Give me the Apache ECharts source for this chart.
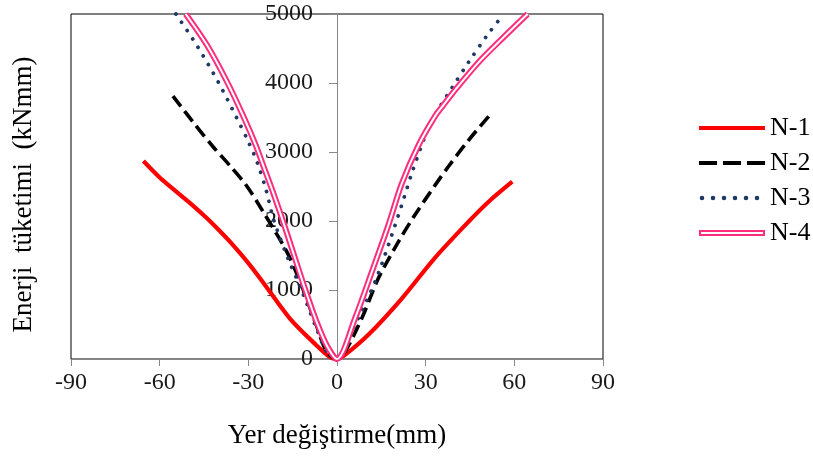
<!DOCTYPE html>
<html>
<head>
<meta charset="utf-8">
<script src="https://cdn.jsdelivr.net/npm/echarts@6/dist/echarts.min.js"></script>
<style>html,body{margin:0;padding:0;background:#fff}#c{width:813px;height:457px}</style>
</head>
<body>
<div id="c"></div>
<script>
// ---- data ----
var seriesNames = ['N-1', 'N-2', 'N-3', 'N-4'];
var xTicks = [-90, -60, -30, 0, 30, 60, 90];
var yTicks = [0, 1000, 2000, 3000, 4000, 5000];

var n1X = [-65.5, -60, -57, -50, -44, -40, -36, -30, -25, -16, -7, -2.5, 0, 2.7, 10.6, 22, 33, 44.5, 51.3, 59.3];
var n1Y = [2870, 2630, 2520, 2270, 2040, 1870, 1690, 1390, 1110, 590, 200, 30, 0, 60, 350, 880, 1460, 1990, 2280, 2570];

var n2X = [-55.5, -49, -42, -36, -30.6, -25, -17, -12.5, -7, -3.5, 0, 2.7, 8.4, 14, 20.8, 26.4, 33.2, 37.7, 44.5, 51.8];
var n2Y = [3810, 3450, 3080, 2790, 2510, 2135, 1555, 1120, 490, 105, 0, 105, 590, 1170, 1700, 2090, 2520, 2790, 3170, 3540];

var n3X = [-54.5, -47.5, -40, -34, -30, -27, -24, -21.3, -16.5, -12, -7, -3.5, 0, 1.6, 7.2, 12.9, 17.4, 21.9, 25.3, 29.8, 32, 34.3, 38.9, 44.5, 51.3, 56.5];
var n3Y = [5000, 4550, 4000, 3500, 3150, 2850, 2450, 2000, 1450, 1000, 450, 106, 0, 106, 590, 1120, 1652, 2232, 2691, 3230, 3450, 3620, 3930, 4300, 4720, 5000];

var n4X = [-51.2, -44, -37, -31.5, -27.5, -24.5, -21.5, -18.3, -14.5, -10.7, -7, -3.5, 0, 6.1, 11.8, 17.4, 21.9, 27.6, 33.2, 36, 40, 47.9, 55.8, 64.5];
var n4Y = [5000, 4550, 4000, 3500, 3100, 2750, 2400, 2000, 1500, 1000, 550, 200, 0, 590, 1265, 1942, 2540, 3100, 3520, 3680, 3900, 4300, 4640, 5000];

function zip(xs, ys) { return xs.map(function (x, i) { return [x, ys[i]]; }); }

var FONT = 'Liberation Serif';
var GRID_LEFT = 71, GRID_RIGHT = 210;
var plotW = 813 - GRID_LEFT - GRID_RIGHT;
// y axis sits at x = 0 of the x axis
var yOffset = -plotW * (0 - xTicks[0]) / (xTicks[xTicks.length - 1] - xTicks[0]);

var chart = echarts.init(document.getElementById('c'), null, { renderer: 'canvas' });

// legend icons (66 x 6 box); the tiny corner subpaths keep the full box size
var box = 'M0,0L0.01,0L0.01,0.01Z M65.99,5.99L66,5.99L66,6Z ';
var iconSolid = 'path://' + box + 'M0,1L66,1L66,5L0,5Z';
var iconDash = 'path://' + box + 'M0,1L18,1L18,5L0,5Z M24,1L42,1L42,5L24,5Z M48,1L66,1L66,5L48,5Z';
var dots = '';
for (var i = 0; i < 6; i++) {
  var cx = 3 + i * 11;
  dots += ' M' + (cx - 2.3) + ',3 A2.3,2.3 0 1,0 ' + (cx + 2.3) + ',3 A2.3,2.3 0 1,0 ' + (cx - 2.3) + ',3 Z';
}
var iconDot = 'path://' + box + dots;
var iconDouble = 'path://M0,0L66,0L66,6L0,6Z M2,2L2,4L64,4L64,2Z';

var option = {
  animation: false,
  backgroundColor: '#fff',
  grid: { left: GRID_LEFT, right: GRID_RIGHT, top: 14, bottom: 98, show: true, borderColor: '#000', borderWidth: 1,
          backgroundColor: 'transparent', containLabel: false, outerBoundsMode: 'none' },
  xAxis: {
    type: 'value', min: xTicks[0], max: xTicks[xTicks.length - 1], interval: 30,
    axisLine: { onZero: false, lineStyle: { color: '#898989', width: 1 } },
    axisTick: { show: true, length: 7, lineStyle: { color: '#898989' } },
    splitLine: { show: false },
    axisLabel: { fontFamily: FONT, fontSize: 24, color: '#1a1a1a', margin: 12, formatter: function (v) { return String(v); } },
    name: 'Yer değiştirme(mm)', nameLocation: 'middle', nameGap: 63,
    nameTextStyle: { fontFamily: FONT, fontSize: 27, color: '#000' }
  },
  yAxis: {
    type: 'value', min: yTicks[0], max: yTicks[yTicks.length - 1], interval: 1000,
    position: 'left', offset: yOffset,
    axisLine: { show: true, onZero: false, lineStyle: { color: '#898989', width: 1 } },
    axisTick: { show: true, length: 8, lineStyle: { color: '#898989' } },
    splitLine: { show: false },
    axisLabel: { fontFamily: FONT, fontSize: 24, color: '#1a1a1a', margin: 24, formatter: function (v) { return String(v); } },
    name: 'Enerji  tüketimi  (kNmm)', nameLocation: 'middle', nameGap: 300, nameRotate: 90,
    nameTextStyle: { fontFamily: FONT, fontSize: 27, color: '#000', padding: [0, 16, 0, 0] }
  },
  legend: {
    orient: 'vertical', left: 694, top: 110, itemWidth: 66, itemHeight: 6, itemGap: 9,
    textStyle: { fontFamily: FONT, fontSize: 26, color: '#000' },
    data: [
      { name: seriesNames[0], icon: iconSolid },
      { name: seriesNames[1], icon: iconDash },
      { name: seriesNames[2], icon: iconDot },
      { name: seriesNames[3], icon: iconDouble }
    ]
  },
  series: [
    { name: seriesNames[0], type: 'line', data: zip(n1X, n1Y), smooth: 0.3, symbol: 'none', showSymbol: false,
      lineStyle: { color: '#FF0000', width: 4.2 }, itemStyle: { color: '#FF0000' } },
    { name: seriesNames[1], type: 'line', data: zip(n2X, n2Y), smooth: 0.3, symbol: 'none', showSymbol: false,
      lineStyle: { color: '#000', width: 3.6, type: [13, 6] }, itemStyle: { color: '#000' } },
    { name: seriesNames[2], type: 'line', data: zip(n3X, n3Y), smooth: 0.3, symbol: 'none', showSymbol: false,
      lineStyle: { color: '#1F3864', width: 3.8, type: [0.01, 10], cap: 'round' }, itemStyle: { color: '#1F3864' } },
    { name: seriesNames[3], type: 'line', data: zip(n4X, n4Y), smooth: 0.3, symbol: 'none', showSymbol: false,
      lineStyle: { color: '#FF2D7D', width: 6 }, itemStyle: { color: '#FF2D7D' } },
    { type: 'line', data: zip(n4X, n4Y), smooth: 0.3, symbol: 'none', showSymbol: false, silent: true,
      lineStyle: { color: '#fff', width: 2 }, itemStyle: { color: '#fff' } }
  ]
};
chart.setOption(option);
</script>
</body>
</html>
